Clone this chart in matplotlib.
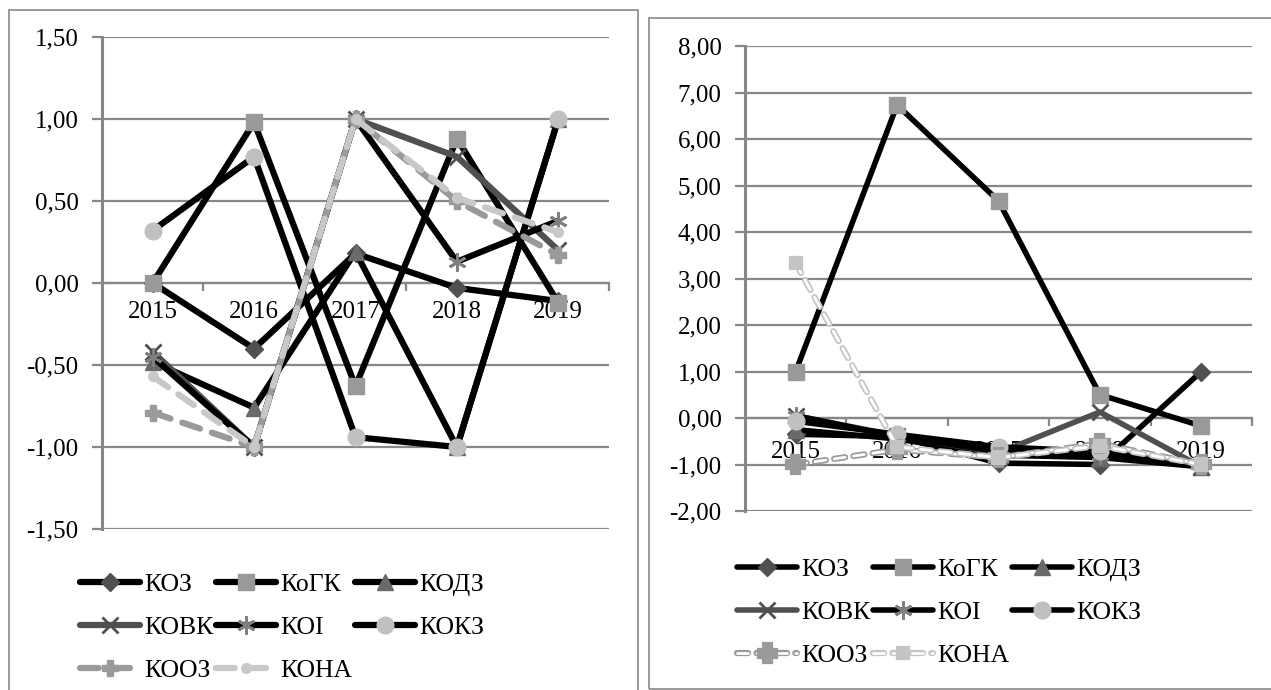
import matplotlib
matplotlib.use("Agg")
import matplotlib.pyplot as plt
from matplotlib.patches import Rectangle
import matplotlib.patheffects as pe
from matplotlib.ticker import FuncFormatter

years = ["2015", "2016", "2017", "2018", "2019"]
series_names = ["КОЗ", "КоГК", "КОДЗ", "КОВК", "КОІ", "КОКЗ", "КООЗ", "КОНА"]

# Left chart values
left_koz  = [0.00, -0.40, 0.18, -0.03, -0.11]
left_kogk = [0.00, 0.98, -0.63, 0.88, -0.12]
left_kodz = [-0.48, -0.76, 0.19, -1.00, 1.00]
left_kovk = [-0.42, -1.00, 1.00, 0.77, 0.20]
left_koi  = [-0.45, -1.00, 1.00, 0.13, 0.38]
left_kokz = [0.32, 0.77, -0.94, -1.00, 1.00]
left_kooz = [-0.79, -1.00, 1.00, 0.50, 0.17]
left_kona = [-0.57, -1.00, 1.00, 0.52, 0.31]

# Right chart values
right_koz  = [-0.35, -0.40, -0.97, -1.00, 1.00]
right_kogk = [1.00, 6.73, 4.67, 0.50, -0.17]
right_kodz = [-0.25, -0.45, -0.80, -0.85, -1.05]
right_kovk = [0.05, -0.38, -0.75, 0.13, -1.05]
right_koi  = [0.05, -0.40, -0.72, -0.80, -1.00]
right_kokz = [-0.07, -0.35, -0.62, -0.72, -1.00]
right_kooz = [-1.00, -0.68, -0.85, -0.55, -1.00]
right_kona = [3.33, -0.62, -0.85, -0.60, -1.00]

left_ticks = [-1.5, -1.0, -0.5, 0.0, 0.5, 1.0, 1.5]
right_ticks = [-2, -1, 0, 1, 2, 3, 4, 5, 6, 7, 8]

W, H = 1271, 690
fig = plt.figure(figsize=(W / 100, H / 100), dpi=100)
FONT = "Liberation Serif"
plt.rcParams["font.family"] = FONT
GRID = "#878787"
FS = 18

# panel borders
fig.patches.append(Rectangle((9 / W, -0.1), (638 - 9) / W, 1.1 - 10 / H,
                             transform=fig.transFigure, fill=False,
                             edgecolor=GRID, lw=1.2))
fig.patches.append(Rectangle((649 / W, 1 - 689 / H), 0.6, (689 - 18) / H,
                             transform=fig.transFigure, fill=False,
                             edgecolor=GRID, lw=1.2))


def fmt(v, pos):
    return ("%.2f" % v).replace(".", ",")


def axes_px(x0, x1, ytop, ybot):
    return fig.add_axes([x0 / W, 1 - ybot / H, (x1 - x0) / W, (ybot - ytop) / H])


def style_axes(ax, ticks, label_off):
    ax.set_xlim(-0.5, 4.5)
    ax.set_ylim(ticks[0], ticks[-1])
    ax.set_yticks(ticks)
    ax.yaxis.set_major_formatter(FuncFormatter(fmt))
    for s in ["top", "right"]:
        ax.spines[s].set_visible(False)
    ax.spines["left"].set_color(GRID)
    ax.spines["left"].set_linewidth(2.2)
    ax.spines["bottom"].set_position(("data", 0))
    ax.spines["bottom"].set_color(GRID)
    ax.spines["bottom"].set_linewidth(1.6)
    ax.set_xticks([0.5, 1.5, 2.5, 3.5, 4.5])
    ax.set_xticklabels([])
    ax.tick_params(axis="x", direction="out", length=6, width=1.6, color=GRID)
    ax.tick_params(axis="y", direction="out", length=7, width=1.6, color=GRID,
                   labelsize=FS, pad=10)
    ax.grid(axis="y", color=GRID, lw=1.6)
    ax.set_axisbelow(True)
    for i, y in enumerate(years):
        ax.annotate(y, xy=(i, 0), xytext=(0, -label_off), textcoords="offset pixels",
                    ha="center", va="center", fontsize=FS, zorder=1)
    ax.patch.set_alpha(0)


def legend_order(hs):
    # matplotlib fills columns first; reorder so rows read like the reference
    return [hs[0], hs[3], hs[6], hs[1], hs[4], hs[7], hs[2], hs[5]]


x = list(range(len(years)))

styles = [
    dict(color="black", marker="D", mfc="#505050", mec="#505050", ms=9.5),
    dict(color="black", marker="s", mfc="#999999", mec="#999999", ms=11),
    dict(color="black", marker="^", mfc="#6a6a6a", mec="#6a6a6a", ms=12),
    dict(color="#505050", marker="x", mfc="#505050", mec="#505050", ms=12, mew=2),
    dict(color="black", marker=(6, 2, 0), mfc="#808080", mec="#808080", ms=13, mew=2),
    dict(color="black", marker="o", mfc="#c0c0c0", mec="#c0c0c0", ms=12),
]

leg_kw = dict(ncol=3, loc="upper left", frameon=False,
              prop={"size": 18.5, "family": FONT}, handlelength=2.35, handletextpad=0.15,
              columnspacing=0.1, labelspacing=0.78, borderaxespad=0, borderpad=0)

# ---------- Left chart ----------
axL = axes_px(102, 609, 37, 529)
style_axes(axL, left_ticks, 29)
left_data = [left_koz, left_kogk, left_kodz, left_kovk, left_koi, left_kokz]
handlesL = []
for d, st, nm in zip(left_data, styles, series_names[:6]):
    h, = axL.plot(x, d, lw=4.5, solid_capstyle="round", solid_joinstyle="round",
                  label=nm, clip_on=False, zorder=3, **st)
    handlesL.append(h)
h, = axL.plot(x, left_kooz, lw=4.5, color="#9a9a9a", ls=(0, (3, 2)),
              dash_capstyle="round", marker="P", ms=12, mfc="#9a9a9a", mec="#9a9a9a",
              label="КООЗ", clip_on=False, zorder=3)
handlesL.append(h)
h, = axL.plot(x, left_kona, lw=4.5, color="#c8c8c8", ls=(0, (3, 2)),
              dash_capstyle="round", marker="o", ms=7, mfc="#c8c8c8", mec="#c8c8c8",
              label="КОНА", clip_on=False, zorder=3)
handlesL.append(h)

fig.legend(handles=legend_order(handlesL),
           bbox_to_anchor=(80 / W, 1 - 573 / H), **leg_kw)

# ---------- Right chart ----------
axR = axes_px(745, 1252, 46, 511)
style_axes(axR, right_ticks, 34)
right_data = [right_koz, right_kogk, right_kodz, right_kovk, right_koi, right_kokz]
handlesR = []
for d, st, nm in zip(right_data, styles, series_names[:6]):
    h, = axR.plot(x, d, lw=4, solid_capstyle="round", solid_joinstyle="round",
                  label=nm, clip_on=False, zorder=3, **st)
    handlesR.append(h)
hollow_a = [pe.Stroke(linewidth=4.5, foreground="#9a9a9a"), pe.Normal()]
hollow_b = [pe.Stroke(linewidth=4.5, foreground="#c4c4c4"), pe.Normal()]
h, = axR.plot(x, right_kooz, lw=2, color="white", ls=(0, (4, 3)),
              dash_capstyle="round", marker="P", ms=11, mfc="#9a9a9a", mec="#9a9a9a",
              label="КООЗ", clip_on=False, zorder=3, path_effects=hollow_a)
handlesR.append(h)
h, = axR.plot(x, right_kona, lw=2, color="white", ls=(0, (4, 3)),
              dash_capstyle="round", marker="s", ms=6, mfc="#c4c4c4", mec="#c4c4c4",
              label="КОНА", clip_on=False, zorder=3, path_effects=hollow_b)
handlesR.append(h)

fig.legend(handles=legend_order(handlesR),
           bbox_to_anchor=(737 / W, 1 - 558 / H), **leg_kw)

fig.savefig("out.png", dpi=100)
